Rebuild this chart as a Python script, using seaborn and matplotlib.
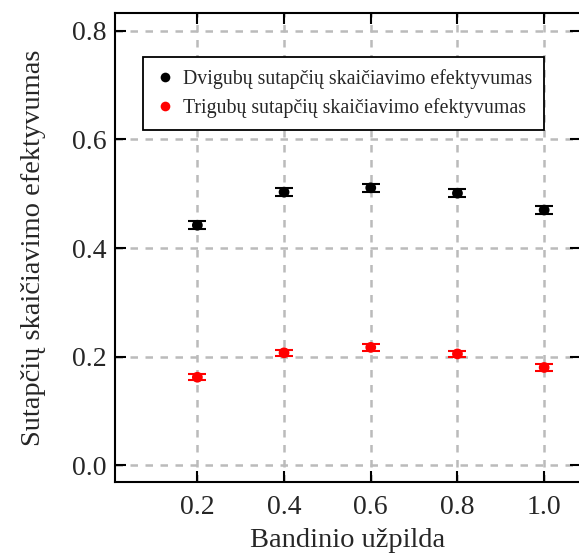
import matplotlib
matplotlib.use("Agg")
import matplotlib.pyplot as plt
import seaborn as sns
import pandas as pd

fill = [0.2, 0.4, 0.6, 0.8, 1.0]
double_eff = [0.442, 0.503, 0.511, 0.501, 0.470]
double_err = [0.007, 0.007, 0.007, 0.007, 0.007]
triple_eff = [0.162, 0.207, 0.217, 0.205, 0.180]
triple_err = [0.006, 0.006, 0.007, 0.006, 0.006]
series_names = ["Dvigubų sutapčių skaičiavimo efektyvumas",
                "Trigubų sutapčių skaičiavimo efektyvumas"]
colors = ["black", "red"]

sns.set_style("ticks")
plt.rcParams['font.family'] = ['Liberation Serif', 'DejaVu Serif']

df = pd.DataFrame({
    "x": fill + fill,
    "y": double_eff + triple_eff,
    "err": double_err + triple_err,
    "series": [series_names[0]] * 5 + [series_names[1]] * 5,
})

fig = plt.figure(figsize=(5.79, 5.54), dpi=100)
ax = fig.add_axes([115/579, 72/554, 466/579, 469/554])

for name, c in zip(series_names, colors):
    sub = df[df["series"] == name]
    ax.errorbar(sub["x"], sub["y"], yerr=sub["err"], fmt="none", ecolor=c,
                elinewidth=1.5, capsize=6.5, capthick=1.5, zorder=3)

sns.scatterplot(data=df, x="x", y="y", hue="series", palette=colors,
                s=60, edgecolor="none", ax=ax, zorder=4)

ax.set_xlim(0.01, 1.085)
ax.set_ylim(-0.031, 0.833)
ax.set_xticks(fill)
ax.set_xticklabels(["0.2", "0.4", "0.6", "0.8", "1.0"])
ax.set_yticks([0.0, 0.2, 0.4, 0.6, 0.8])
ax.set_yticklabels(["0.0", "0.2", "0.4", "0.6", "0.8"])
ax.tick_params(direction="in", length=8, width=1.5, labelsize=20,
               top=True, right=True, color="black")
ax.tick_params(axis="y", pad=6)
ax.tick_params(axis="x", pad=9)
ax.grid(True, linestyle=(0, (3, 3)), color="#bbbbbb", linewidth=1.8)
for sp in ax.spines.values():
    sp.set_linewidth(1.5)
    sp.set_color("black")
ax.set_xlabel("Bandinio užpilda", fontsize=20.5, labelpad=6)
ax.set_ylabel("Sutapčių skaičiavimo efektyvumas", fontsize=20.5, labelpad=19)

leg = ax.legend(loc="upper left", bbox_to_anchor=(0.06, 0.906), fontsize=14.3,
                frameon=True, fancybox=False, framealpha=1, edgecolor="black",
                handlelength=1.0, handletextpad=0.4, borderpad=0.6,
                labelspacing=0.45, borderaxespad=0, markerscale=0.9, title=None)
leg.get_frame().set_linewidth(1.3)

fig.savefig("out.png", dpi=100)
